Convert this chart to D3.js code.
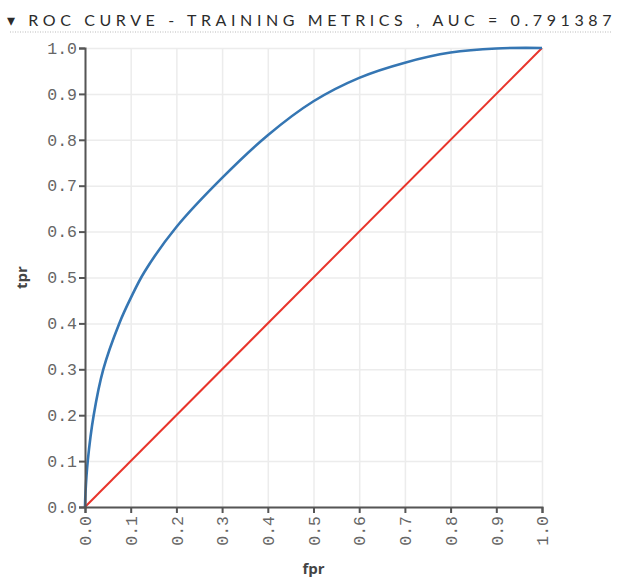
<!DOCTYPE html>
<html>
<head>
<meta charset="utf-8">
<script src="https://cdn.jsdelivr.net/npm/d3@7"></script>
<style>
  body { margin: 0; background: #fff; }
  .title { font-family: Lato, "Open Sans", sans-serif; font-size: 16px; letter-spacing: 4.6px; fill: #2b2b2b; }
  .tick text { font-family: "Liberation Mono", monospace; font-size: 16.5px; fill: #666; }
  .axis path, .axis line { stroke: #555; stroke-width: 2; }
  .grid line { stroke: #ececec; stroke-width: 1.5; }
  .grid path { display: none; }
  .alabel { font-family: "Open Sans", sans-serif; font-weight: bold; font-size: 15px; fill: #444; }
</style>
</head>
<body>
<div id="chart"></div>
<script>
// ROC points
var fpr = [0, 0.001, 0.006, 0.019, 0.04, 0.075, 0.1, 0.13, 0.2, 0.3, 0.4, 0.5, 0.6, 0.7, 0.8, 0.9, 1.0];
var tpr = [0, 0.03, 0.1, 0.2, 0.3, 0.4, 0.455, 0.512, 0.61, 0.717, 0.81, 0.884, 0.935, 0.968, 0.99, 0.999, 1.0];
var baseline = [0, 1];
var ticks = [0, 0.1, 0.2, 0.3, 0.4, 0.5, 0.6, 0.7, 0.8, 0.9, 1.0];
var titleText = "\u25BE ROC CURVE - TRAINING METRICS , AUC = 0.791387";

var W = 624, H = 579;
var margin = {left: 85, top: 48, right: 82, bottom: 72};
var w = W - margin.left - margin.right;
var h = H - margin.top - margin.bottom;

var svg = d3.select("#chart").append("svg").attr("width", W).attr("height", H);

svg.append("text").attr("class", "title").attr("x", 7).attr("y", 26).text(titleText);
svg.append("line").attr("x1", 10).attr("x2", 612).attr("y1", 32).attr("y2", 32)
  .attr("stroke", "#bbb").attr("stroke-width", 1).attr("stroke-dasharray", "1,1.5");

var g = svg.append("g").attr("transform", "translate(" + margin.left + "," + margin.top + ")");

var x = d3.scaleLinear().domain([0, 1]).range([0, w]);
var y = d3.scaleLinear().domain([0, 1]).range([h, 0]);

g.append("g").attr("class", "grid")
  .call(d3.axisLeft(y).tickValues(ticks).tickSize(-w).tickFormat(""));
g.append("g").attr("class", "grid").attr("transform", "translate(0," + h + ")")
  .call(d3.axisBottom(x).tickValues(ticks).tickSize(-h).tickFormat(""));

var line = d3.line().x(function(d) { return x(d[0]); }).y(function(d) { return y(d[1]); });

g.append("path").datum(baseline.map(function(v) { return [v, v]; }))
  .attr("d", line).attr("fill", "none").attr("stroke", "#e8342b").attr("stroke-width", 2);

g.append("path").datum(fpr.map(function(v, i) { return [v, tpr[i]]; }))
  .attr("d", line.curve(d3.curveCatmullRom.alpha(0.5))).attr("fill", "none")
  .attr("stroke", "#3576b3").attr("stroke-width", 2.6);

var fmt = d3.format(".1f");
g.append("g").attr("class", "axis")
  .call(d3.axisLeft(y).tickValues(ticks).tickFormat(fmt).tickPadding(2));

var xa = g.append("g").attr("class", "axis").attr("transform", "translate(0," + h + ")")
  .call(d3.axisBottom(x).tickValues(ticks).tickFormat(fmt));
xa.selectAll(".tick text")
  .attr("transform", "rotate(-90)")
  .attr("text-anchor", "end")
  .attr("x", -9).attr("y", 0).attr("dy", "0.35em");

svg.append("text").attr("class", "alabel")
  .attr("transform", "translate(27," + (margin.top + h / 2) + ") rotate(-90)")
  .attr("text-anchor", "middle").text("tpr");
svg.append("text").attr("class", "alabel")
  .attr("x", margin.left + w / 2).attr("y", 574)
  .attr("text-anchor", "middle").text("fpr");
</script>
</body>
</html>
